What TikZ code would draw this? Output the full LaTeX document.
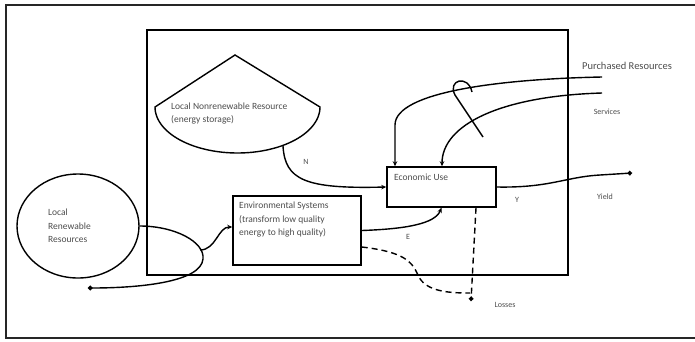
\documentclass[tikz,border=0pt]{standalone}
\usepackage{fontspec}
\setmainfont{Carlito}
\usetikzlibrary{arrows.meta,shapes.geometric}
\begin{document}
\begin{tikzpicture}[x=1pt,y=-1pt,
  frameline/.style={line width=1.8pt,draw=black!85},
  box/.style={draw,line width=1.5pt,inner sep=0pt},
  flow/.style={line width=1.4pt},
  tip/.style={-{Stealth[length=5pt,width=4.5pt]}},
  dotend/.style={-{Circle[length=4.5pt]}},
  txt/.style={font=\fontsize{9.5}{13.5}\selectfont,text=black!70,inner sep=0pt,align=left},
  small/.style={font=\fontsize{8}{10}\selectfont,text=black!70,inner sep=0pt}]
\useasboundingbox (0,0) rectangle (695,341);
% outer frame
\draw[frameline] (695,5) -- (6,5) -- (6,338) -- (695,338);
% inner system box
\node[box,minimum width=421pt,minimum height=245pt,line width=1.7pt] (sys) at (357.5,152.5) {};
% nonrenewable storage shape
\draw[line width=1.4pt] (235,55) -- (155,107)
  -- plot[domain=180:0,samples=60] ({237.5+82.5*cos(\x)},{107+46*sin(\x)}) -- cycle;
\coordinate (nn) at (283,146);
\node[txt,anchor=west] (nntext) at (171,113.5) {Local Nonrenewable Resource\\(energy storage)};
% renewable ellipse
\node[draw,ellipse,line width=1.4pt,minimum width=122pt,minimum height=104pt,inner sep=0pt] (ren) at (78,226) {};
\node[txt,anchor=west] (rentext) at (48,226) {Local\\Renewable\\Resources};
% boxes
\node[box,minimum width=128pt,minimum height=69pt] (env) at (297,230.5) {};
\node[txt,anchor=north west] (envtext) at (239,202) {Environmental Systems\\(transform low quality\\energy to high quality)};
\node[box,minimum width=109pt,minimum height=40pt] (eco) at (441.5,187) {};
\node[txt,anchor=north west] (ecotext) at (394,174) {Economic Use};
% coordinates for free ends
\coordinate (sink) at (88,288);
\coordinate (br) at (200,250);
\coordinate (pr1) at (602,77);
\coordinate (pr2) at (602,93);
\coordinate (yield) at (632,173);
\coordinate (loss) at (471,301);
\coordinate (lossjoin) at (470,293);
% renewable flows
\draw[flow,dotend] (ren.east) .. controls (175,226) and (205,242) .. (203,259)
  .. controls (201,282) and (140,288) .. (sink);
\draw[flow,tip] (br) .. controls (216,250) and (218,227) .. ([yshift=3.5pt]env.west);
% N
\draw[flow,tip] (nn) .. controls (285,180) and (305,189) .. (eco.west);
\node[small] (nlab) at (306,162) {N};
% E
\draw[flow,tip] (env.east) .. controls (405,229) and (435,224) .. (eco.south);
\node[small] (elab) at (408,237) {E};
% purchased resources
\draw[flow,tip] (pr1) .. controls (500,79) and (395,92) .. (395,125) -- (eco.north -| 395,0);
\draw[flow,tip] (pr2) .. controls (500,96) and (442,125) .. (eco.north -| 442,0);
\draw[flow] (483,137) -- (455,95) .. controls (447,80) and (468,74) .. (472,92);
\node[txt,font=\fontsize{10.5}{13}\selectfont] (purch) at (627,66) {Purchased Resources};
\node[small] (serv) at (607,112) {Services};
% yield
\draw[flow,dotend] (eco.east) .. controls (550,188) and (565,177) .. (600,175) -- (yield);
\node[small] (ylab) at (517,200) {Y};
\node[small] (yieldlab) at (605,197) {Yield};
% losses
\draw[flow,dash pattern=on 6pt off 4pt,dotend] (eco.south -| 476,0) -- (loss);
\draw[flow,dash pattern=on 6pt off 4pt] ([yshift=-16.5pt]env.east) .. controls (405,252) and (412,262) .. (418,275)
  .. controls (425,292) and (450,293) .. (lossjoin);
\node[small] (losslab) at (505,305) {Losses};
\end{tikzpicture}
\end{document}
